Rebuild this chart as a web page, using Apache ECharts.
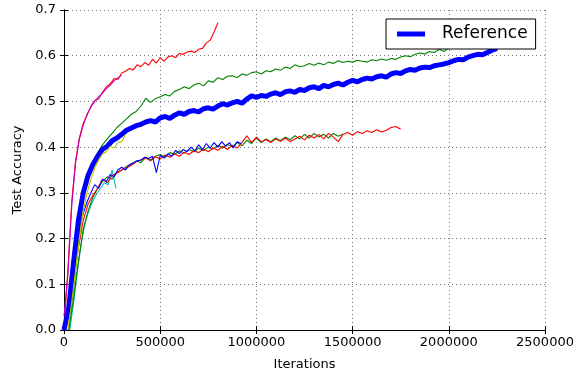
<!DOCTYPE html>
<html>
<head>
<meta charset="utf-8">
<script src="https://cdn.jsdelivr.net/npm/echarts@6/dist/echarts.min.js"></script>
<style>
  html, body { margin: 0; padding: 0; background: #fff; }
  #chart { width: 585px; height: 377px; }
</style>
</head>
<body>
<div id="chart"></div>
<script>
// x ticks / y ticks
var xTicks = [0, 500000, 1000000, 1500000, 2000000, 2500000];
var yTicks = [0.0, 0.1, 0.2, 0.3, 0.4, 0.5, 0.6, 0.7];

// each run is tested every "step" iterations, starting at "start"
var refStart = 0, refStep = 25000;
var refAcc = [0.0, 0.05, 0.15, 0.24, 0.30, 0.338, 0.362, 0.38, 0.395, 0.402,
  0.414, 0.42, 0.428, 0.437, 0.442, 0.447, 0.45, 0.455, 0.458, 0.455,
  0.464, 0.467, 0.463, 0.47, 0.475, 0.472, 0.478, 0.48, 0.477, 0.484,
  0.486, 0.483, 0.49, 0.495, 0.492, 0.497, 0.5, 0.496, 0.505, 0.512,
  0.509, 0.513, 0.511, 0.516, 0.519, 0.515, 0.521, 0.523, 0.52, 0.526,
  0.524, 0.53, 0.532, 0.528, 0.535, 0.532, 0.537, 0.54, 0.536, 0.542,
  0.546, 0.543, 0.548, 0.551, 0.549, 0.554, 0.556, 0.553, 0.56, 0.563,
  0.561, 0.567, 0.57, 0.568, 0.573, 0.575, 0.574, 0.578, 0.58, 0.582,
  0.585, 0.589, 0.592, 0.591, 0.597, 0.6, 0.603, 0.602, 0.607, 0.612, 0.616];

var redTopStart = 0, redTopStep = 20000;
var redTopAcc = [0.00, 0.13, 0.28, 0.37, 0.42, 0.452, 0.47, 0.49, 0.502, 0.506,
  0.52, 0.532, 0.538, 0.55, 0.548, 0.562, 0.566, 0.572, 0.569, 0.58,
  0.576, 0.585, 0.579, 0.592, 0.584, 0.596, 0.588, 0.597, 0.6, 0.596,
  0.605, 0.603, 0.608, 0.61, 0.607, 0.614, 0.616, 0.628, 0.634, 0.652, 0.672];

var magentaStart = 0, magentaStep = 20000;
var magentaAcc = [0.03, 0.12, 0.27, 0.365, 0.418, 0.448, 0.472, 0.488, 0.5, 0.51,
  0.518, 0.528, 0.535, 0.545, 0.552, 0.557];

var greenTopStart = 25000, greenTopStep = 25000;
var greenTopAcc = [0.0, 0.09, 0.19, 0.285, 0.335, 0.365, 0.388, 0.405, 0.418, 0.43,
  0.443, 0.452, 0.462, 0.472, 0.478, 0.49, 0.507, 0.498, 0.506, 0.51,
  0.515, 0.512, 0.522, 0.526, 0.532, 0.528, 0.536, 0.54, 0.534, 0.545,
  0.542, 0.552, 0.548, 0.555, 0.556, 0.552, 0.56, 0.557, 0.563, 0.565,
  0.56, 0.567, 0.565, 0.571, 0.568, 0.575, 0.572, 0.58, 0.576, 0.578,
  0.583, 0.579, 0.584, 0.58, 0.586, 0.583, 0.589, 0.585, 0.588, 0.586,
  0.59, 0.588, 0.586, 0.591, 0.589, 0.593, 0.59, 0.594, 0.592, 0.597,
  0.6, 0.598, 0.603, 0.606, 0.604, 0.609, 0.607, 0.614, 0.609, 0.618];

var yellowStart = 20000, yellowStep = 20000;
var yellowAcc = [0.0, 0.06, 0.13, 0.2, 0.26, 0.3, 0.33, 0.355, 0.372, 0.385,
  0.39, 0.402, 0.398, 0.41, 0.412, 0.428];

var blackStart = 0, blackStep = 20000;
var blackAcc = [0.0, 0.04, 0.12, 0.2, 0.26, 0.3, 0.33, 0.35];

var cyanStart = 30000, cyanStep = 20000;
var cyanAcc = [0.0, 0.06, 0.13, 0.19, 0.235, 0.262, 0.282, 0.298, 0.31, 0.322,
  0.318, 0.35, 0.31];

var blueLowStart = 0, blueLowStep = 20000;
var blueLowAcc = [0.0, 0.03, 0.1, 0.17, 0.22, 0.255, 0.28, 0.3, 0.318, 0.31,
  0.33, 0.325, 0.34, 0.335, 0.35, 0.356, 0.35, 0.362, 0.365, 0.37,
  0.372, 0.378, 0.375, 0.38, 0.344, 0.382, 0.376, 0.385, 0.38, 0.393,
  0.386, 0.395, 0.39, 0.4, 0.392, 0.405, 0.395, 0.408, 0.398, 0.41,
  0.4, 0.412, 0.402, 0.41, 0.398, 0.412, 0.408];

var greenLowStart = 25000, greenLowStep = 25000;
var greenLowAcc = [0.0, 0.07, 0.15, 0.22, 0.26, 0.29, 0.31, 0.325, 0.335, 0.33,
  0.345, 0.35, 0.358, 0.362, 0.37, 0.366, 0.378, 0.372, 0.38, 0.384,
  0.378, 0.388, 0.384, 0.392, 0.387, 0.395, 0.39, 0.398, 0.392, 0.4,
  0.396, 0.404, 0.398, 0.406, 0.401, 0.41, 0.403, 0.415, 0.408, 0.42,
  0.41, 0.418, 0.412, 0.42, 0.414, 0.422, 0.416, 0.425, 0.418, 0.428,
  0.42, 0.43, 0.422, 0.428, 0.42, 0.43, 0.424, 0.428];

var redLowStart = 0, redLowStep = 25000;
var redLowAcc = [0.0, 0.04, 0.11, 0.18, 0.24, 0.275, 0.295, 0.31, 0.33, 0.322,
  0.338, 0.343, 0.35, 0.355, 0.36, 0.368, 0.372, 0.376, 0.37, 0.379,
  0.374, 0.383, 0.378, 0.385, 0.38, 0.389, 0.384, 0.392, 0.388, 0.396,
  0.39, 0.398, 0.393, 0.402, 0.395, 0.404, 0.398, 0.41, 0.425, 0.41,
  0.422, 0.412, 0.416, 0.41, 0.418, 0.413, 0.42, 0.412, 0.418, 0.424,
  0.416, 0.426, 0.42, 0.428, 0.418, 0.43, 0.422, 0.412, 0.428, 0.432,
  0.426, 0.434, 0.43, 0.436, 0.432, 0.438, 0.433, 0.437, 0.443, 0.445, 0.439];

function toPoints(start, step, values) {
	var pts = [];
	for (var i = 0; i < values.length; i++) {
		pts.push([start + i * step, values[i]]);
	}
	return pts;
}

function thinLine(name, color, pts) {
	return {
		name: name,
		type: 'line',
		data: pts,
		showSymbol: false,
		silent: true,
		lineStyle: { color: color, width: 1.1 },
		itemStyle: { color: color }
	};
}

var font = 'DejaVu Sans';
var chart = echarts.init(document.getElementById('chart'));

var option = {
	animation: false,
	grid: { left: 64, right: 40, top: 10, bottom: 47 },
	legend: {
		data: ['Reference'],
		left: 386,
		top: 19,
		padding: [5, 8, 5, 11],
		backgroundColor: '#fff',
		borderColor: '#000',
		borderWidth: 1,
		borderRadius: 0,
		itemWidth: 28,
		itemHeight: 5,
		itemGap: 0,
		icon: 'rect',
		textStyle: { fontFamily: font, fontSize: 17, color: '#000', lineHeight: 20, padding: [0, 0, 0, 12] }
	},
	xAxis: [{
		type: 'value',
		min: xTicks[0],
		max: xTicks[xTicks.length - 1],
		interval: 500000,
		name: 'Iterations',
		nameLocation: 'middle',
		nameGap: 28,
		nameTextStyle: { fontFamily: font, fontSize: 13, color: '#000' },
		axisLine: { show: true, lineStyle: { color: '#000', width: 1 } },
		axisTick: { show: true, inside: true, length: 4, lineStyle: { color: '#000' } },
		axisLabel: {
			fontFamily: font, fontSize: 13, color: '#000', margin: 6,
			formatter: function (v) { return String(v); }
		},
		splitLine: { show: true, lineStyle: { color: '#777', type: [1, 3], width: 1 } }
	}, {
		type: 'value',
		position: 'top',
		min: xTicks[0],
		max: xTicks[xTicks.length - 1],
		interval: 500000,
		axisLine: { show: true, lineStyle: { color: '#000', width: 1 } },
		axisTick: { show: true, inside: true, length: 4, lineStyle: { color: '#000' } },
		axisLabel: { show: false },
		splitLine: { show: false }
	}],
	yAxis: [{
		type: 'value',
		min: yTicks[0],
		max: yTicks[yTicks.length - 1],
		interval: 0.1,
		name: 'Test Accuracy',
		nameLocation: 'middle',
		nameGap: 25,
		nameTextStyle: { fontFamily: font, fontSize: 13, color: '#000' },
		axisLine: { show: true, lineStyle: { color: '#000', width: 1 } },
		axisTick: { show: true, inside: true, length: 4, lineStyle: { color: '#000' } },
		axisLabel: {
			fontFamily: font, fontSize: 13, color: '#000', margin: 8,
			formatter: function (v) { return v.toFixed(1); }
		},
		splitLine: { show: true, lineStyle: { color: '#777', type: [1, 3], width: 1 } }
	}, {
		type: 'value',
		position: 'right',
		min: yTicks[0],
		max: yTicks[yTicks.length - 1],
		interval: 0.1,
		axisLine: { show: true, lineStyle: { color: '#000', width: 1 } },
		axisTick: { show: true, inside: true, length: 4, lineStyle: { color: '#000' } },
		axisLabel: { show: false },
		splitLine: { show: false }
	}],
	series: [
		thinLine('black', '#000000', toPoints(blackStart, blackStep, blackAcc)),
		thinLine('cyan', '#00bfbf', toPoints(cyanStart, cyanStep, cyanAcc)),
		thinLine('green low', '#008000', toPoints(greenLowStart, greenLowStep, greenLowAcc)),
		thinLine('red low', '#ff0000', toPoints(redLowStart, redLowStep, redLowAcc)),
		thinLine('blue low', '#0000ff', toPoints(blueLowStart, blueLowStep, blueLowAcc)),
		thinLine('green top', '#008000', toPoints(greenTopStart, greenTopStep, greenTopAcc)),
		thinLine('red top', '#ff0000', toPoints(redTopStart, redTopStep, redTopAcc)),
		thinLine('magenta', '#bf00bf', toPoints(magentaStart, magentaStep, magentaAcc)),
		{
			name: 'Reference',
			type: 'line',
			data: toPoints(refStart, refStep, refAcc),
			showSymbol: false,
			silent: true,
			lineStyle: { color: '#0000ff', width: 5 },
			itemStyle: { color: '#0000ff' },
			z: 3
		},
		thinLine('yellow', '#bfbf00', toPoints(yellowStart, yellowStep, yellowAcc))
	]
};

chart.setOption(option);
</script>
</body>
</html>
